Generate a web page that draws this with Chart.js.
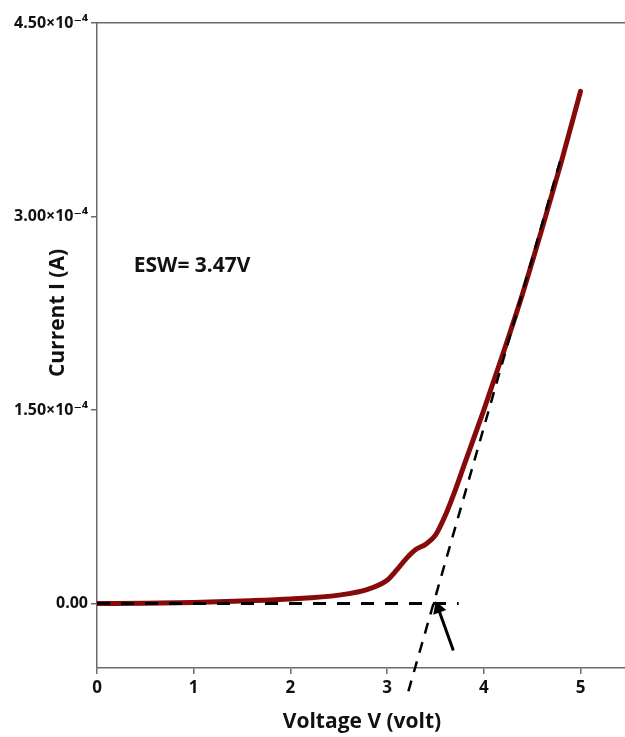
<!DOCTYPE html>
<html>
<head>
<meta charset="utf-8">
<script src="https://cdn.jsdelivr.net/npm/chart.js@4"></script>
<style>
  html, body { margin: 0; padding: 0; background: #fff; }
  #wrap { width: 625px; height: 737px; position: relative; }
</style>
</head>
<body>
<div id="wrap"><canvas id="iv-chart"></canvas></div>
<script>
// I-V curve, voltage (V) vs current (A)
const voltage = [0, 0.5, 1.0, 1.5, 2.0, 2.5, 2.8, 3.0, 3.1, 3.2, 3.3, 3.4, 3.5, 3.6, 3.7, 3.8, 3.9, 4.0, 4.2, 4.4, 4.6, 4.8, 5.0];
const current = [0, 0.002e-4, 0.008e-4, 0.02e-4, 0.035e-4, 0.065e-4, 0.11e-4, 0.18e-4, 0.26e-4, 0.35e-4, 0.42e-4, 0.46e-4, 0.53e-4, 0.68e-4, 0.87e-4, 1.08e-4, 1.29e-4, 1.50e-4, 1.94e-4, 2.40e-4, 2.90e-4, 3.42e-4, 3.97e-4];

// construction lines
const baselineX = [0, 3.74];
const baselineY = [0, 0];
const tangentX = [3.22, 4.80];
const tangentY = [-0.68e-4, 3.46e-4];
const arrowX = [3.685, 3.53];
const arrowY = [-0.364e-4, -0.04e-4];

const xTicks = [0, 1, 2, 3, 4, 5];
const yTicks = [0, 1.5e-4, 3.0e-4, 4.5e-4];

const ESW_LABEL = 'ESW= 3.47V';
const X_TITLE = 'Voltage V (volt)';
const Y_TITLE = 'Current I (A)';

const FONT = '"Open Sans", "DejaVu Sans", sans-serif';
const AXIS_GREY = '#6b6b6b';

function pts(xs, ys) { return xs.map((x, i) => ({ x, y: ys[i] })); }

function yLabel(v) {
    if (v === 0) return '0.00';
    return (v / 1e-4).toFixed(2) + '×10⁻⁴';
}

// titles + annotation drawn as text
const textPlugin = {
    id: 'texts',
    afterDraw(chart) {
        const { ctx, scales } = chart;
        ctx.save();
        ctx.fillStyle = '#111';
        ctx.font = 'bold 21px ' + FONT;
        ctx.textAlign = 'center';
        ctx.textBaseline = 'middle';
        ctx.fillText(X_TITLE, 362, 722);

        ctx.save();
        ctx.translate(58, 313);
        ctx.rotate(-Math.PI / 2);
        ctx.fillText(Y_TITLE, 0, 0);
        ctx.restore();

        ctx.textAlign = 'left';
        ctx.fillText(ESW_LABEL, scales.x.getPixelForValue(0.38), scales.y.getPixelForValue(2.62e-4));
        ctx.restore();
    }
};

const ctx = document.getElementById('iv-chart').getContext('2d');
new Chart(ctx, {
    type: 'line',
    data: {
        datasets: [
            {
                label: 'I-V',
                data: pts(voltage, current),
                borderColor: '#870a0a',
                borderWidth: 5,
                pointRadius: 0,
                cubicInterpolationMode: 'monotone',
                borderCapStyle: 'round',
                order: 3
            },
            {
                label: 'baseline',
                data: pts(baselineX, baselineY),
                borderColor: '#000',
                borderWidth: 3,
                borderDash: [13, 11],
                pointRadius: 0,
                order: 1
            },
            {
                label: 'tangent',
                data: pts(tangentX, tangentY),
                borderColor: '#000',
                borderWidth: 2.5,
                borderDash: [11, 9],
                pointRadius: 0,
                clip: false,
                order: 1
            },
            {
                label: 'arrow',
                data: pts(arrowX, arrowY),
                borderColor: '#000',
                backgroundColor: '#000',
                borderWidth: 3,
                pointRadius: [0, 5],
                pointStyle: 'triangle',
                rotation: -20,
                order: 0
            }
        ]
    },
    options: {
        responsive: true,
        maintainAspectRatio: false,
        animation: false,
        layout: { autoPadding: false, padding: { top: 23, right: 0, left: 0, bottom: 0 } },
        plugins: { legend: { display: false }, tooltip: { enabled: false } },
        scales: {
            x: {
                type: 'linear',
                min: 0,
                max: 5.46,
                afterBuildTicks: s => { s.ticks = xTicks.map(v => ({ value: v })); },
                afterFit: s => { s.height = 69; s.paddingRight = 0; s.paddingLeft = 0; },
                ticks: { color: '#111', font: { family: FONT, size: 17, weight: 'bold' }, padding: 4 },
                grid: { drawOnChartArea: false, drawTicks: true, tickLength: 6, color: AXIS_GREY, lineWidth: 1.5 },
                border: { color: AXIS_GREY, width: 1.5 }
            },
            xTop: {
                type: 'linear',
                position: 'top',
                min: 0,
                max: 5.46,
                afterFit: s => { s.height = 0; s.paddingRight = 0; s.paddingLeft = 0; },
                ticks: { display: false },
                grid: { display: false },
                border: { color: AXIS_GREY, width: 1.5 }
            },
            y: {
                min: -0.5e-4,
                max: 4.5e-4,
                afterBuildTicks: s => { s.ticks = yTicks.map(v => ({ value: v })); },
                afterFit: s => { s.width = 97; s.paddingTop = 0; s.paddingBottom = 0; },
                ticks: { color: '#111', font: { family: FONT, size: 16, weight: 'bold' }, padding: 3, callback: yLabel },
                grid: { drawOnChartArea: false, drawTicks: true, tickLength: 6, color: AXIS_GREY, lineWidth: 1.5 },
                border: { color: AXIS_GREY, width: 1.5 }
            }
        }
    },
    plugins: [textPlugin]
});
</script>
</body>
</html>
